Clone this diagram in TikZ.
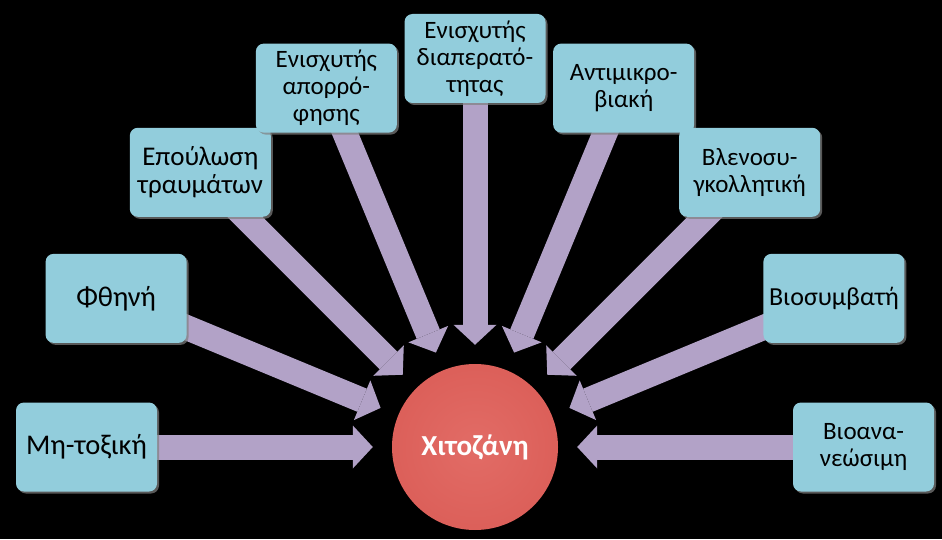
\documentclass[tikz,border=0pt]{standalone}
\usepackage{fontspec}
\setmainfont{Carlito}
\usetikzlibrary{arrows.meta,backgrounds,shadows}

\definecolor{boxblue}{RGB}{146,205,220}
\definecolor{linkpurple}{RGB}{178,162,199}
\definecolor{chitored}{RGB}{218,92,86}
\definecolor{chitolight}{RGB}{226,108,102}
\definecolor{chitorim}{RGB}{190,66,60}
\pgfdeclareradialshading{chitoshade}{\pgfpoint{0bp}{0bp}}{color(0bp)=(chitolight); color(32bp)=(chitored); color(50bp)=(chitorim)}

\begin{document}
\begin{tikzpicture}[x=1pt,y=1pt,
    feature/.style={rounded corners=8pt,fill=boxblue,text=black,minimum width=141pt,minimum height=89pt,align=center,inner sep=2pt,drop shadow={shadow xshift=2pt,shadow yshift=-2pt,opacity=0.7}},
    one line/.style={font=\fontsize{28.5}{33}\selectfont},
    two lines/.style={font=\fontsize{25}{27.5}\selectfont},
    three lines/.style={font=\fontsize{25}{27}\selectfont},
    main node/.style={circle,shading=chitoshade,minimum size=166pt,inner sep=0pt,text=white,font=\fontsize{29}{34}\selectfont\bfseries},
    link/.style={draw=linkpurple,line width=25pt,-{Triangle[width=43pt,length=20pt,line width=0pt,fill=linkpurple]},shorten >=19pt}]
                \node[main node] (chito) at (475,92) {Χιτοζάνη};
                \node[feature,one line] (mt) at ([shift={(180:388.5)}]chito) {Μη-τοξική};
                \node[feature,one line] (ft) at ([shift={(157.5:388.5)}]chito) {Φθηνή};
                \node[feature,two lines,font=\fontsize{27}{27.5}\selectfont] (ep) at ([shift={(135:388.5)}]chito) {Επούλωση\\τραυμάτων};
                \node[feature,three lines] (ea) at ([shift={(112.5:388.5)}]chito) {Ενισχυτής\\απορρό-\\φησης};
                \node[feature,three lines] (ed) at ([shift={(90:388.5)}]chito) {Ενισχυτής\\διαπερατό-\\τητας};
                \node[feature,two lines] (am) at ([shift={(67.5:388.5)}]chito) {Αντιμικρο-\\βιακή};
                \node[feature,two lines] (bk) at ([shift={(45:388.5)}]chito) {Βλενοσυ-\\γκολλητική};
                \node[feature,one line,font=\fontsize{26}{30}\selectfont] (bs) at ([shift={(22.5:388.5)}]chito) {Βιοσυμβατή};
                \node[feature,two lines] (ba) at ([shift={(0:388.5)}]chito) {Βιοανα-\\νεώσιμη};

                \begin{scope}[on background layer]
                \fill[black] (0,0) rectangle (942,539);
                \path[link]
                    (mt.center) edge (chito)
                    (ft.center) edge (chito)
                    (ep.center) edge (chito)
                    (ea.center) edge (chito)
                    (ed.center) edge (chito)
                    (am.center) edge (chito)
                    (bk.center) edge (chito)
                    (bs.center) edge (chito)
                    (ba.center) edge (chito)
                ;
                \end{scope}

            \end{tikzpicture}
\end{document}
